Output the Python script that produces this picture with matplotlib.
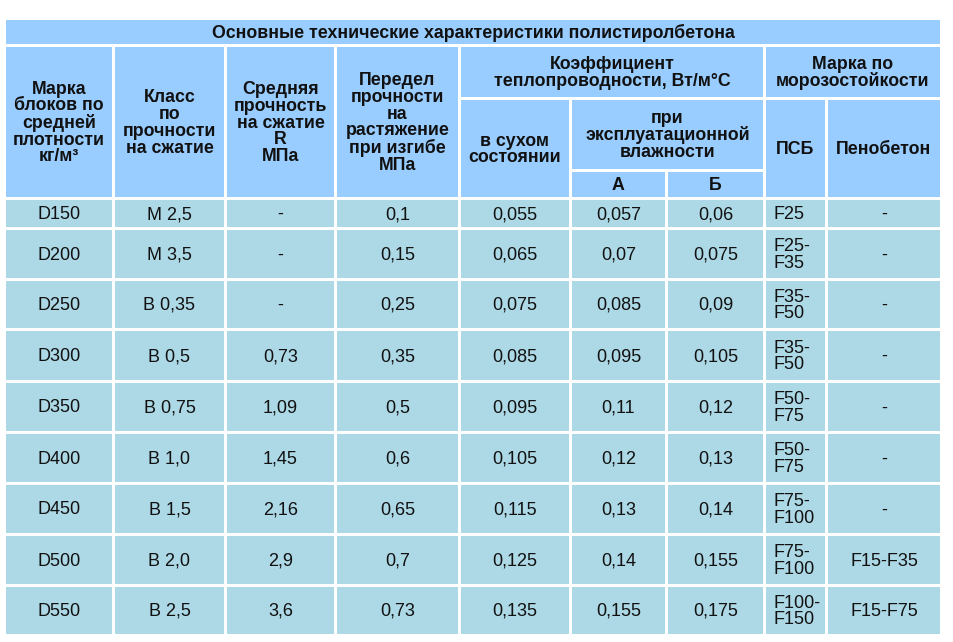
import matplotlib

matplotlib.use("Agg")

import matplotlib.pyplot as plt
from matplotlib import patches

HEAD = "#99CCFF"
BODY = "#ADD8E6"
TEXT = "#111111"

TITLE = "Основные технические характеристики полистиролбетона"

# table data
grades = ["D150", "D200", "D250", "D300", "D350", "D400", "D450", "D500", "D550"]
classes = ["М 2,5", "М 3,5", "В 0,35", "В 0,5", "В 0,75", "В 1,0", "В 1,5", "В 2,0", "В 2,5"]
strength_r = ["-", "-", "-", "0,73", "1,09", "1,45", "2,16", "2,9", "3,6"]
bend_limit = ["0,1", "0,15", "0,25", "0,35", "0,5", "0,6", "0,65", "0,7", "0,73"]
lam_dry = ["0,055", "0,065", "0,075", "0,085", "0,095", "0,105", "0,115", "0,125", "0,135"]
lam_a = ["0,057", "0,07", "0,085", "0,095", "0,11", "0,12", "0,13", "0,14", "0,155"]
lam_b = ["0,06", "0,075", "0,09", "0,105", "0,12", "0,13", "0,14", "0,155", "0,175"]
frost_psb = ["F25", "F25-\nF35", "F35-\nF50", "F35-\nF50", "F50-\nF75", "F50-\nF75",
             "F75-\nF100", "F75-\nF100", "F100-\nF150"]
frost_foam = ["-", "-", "-", "-", "-", "-", "-", "F15-F35", "F15-F75"]

# layout in pixels
COLS = [(6, 112), (115, 224), (227, 334), (337, 458), (461, 569),
        (572, 665), (668, 763), (766, 825), (828, 940)]
ROWS = [(200, 227), (230, 278), (281, 328), (331, 380), (383, 431),
        (434, 482), (485, 533), (536, 584), (587, 634)]

W, H = 954, 642


def cell(ax, x0, x1, y0, y1, color, text="", bold=False, size=12, ha="center", ls=1.0):
    ax.add_patch(patches.Rectangle((x0, y0), x1 - x0, y1 - y0, facecolor=color, edgecolor="none"))
    if text:
        x = (x0 + x1) / 2 if ha == "center" else x0 + 8
        ax.text(x, (y0 + y1) / 2 + 1, text, ha=ha, va="center", fontsize=size, color=TEXT,
                fontweight="bold" if bold else "normal", linespacing=ls,
                multialignment=ha)


def main():
    plt.rcParams["font.family"] = "Liberation Sans"
    fig = plt.figure(figsize=(W / 100, H / 100), dpi=100)
    ax = fig.add_axes([0, 0, 1, 1])
    ax.set_xlim(0, W)
    ax.set_ylim(H, 0)
    ax.set_axis_off()

    hs = 12.8
    hl = 0.98
    cell(ax, 6, 940, 20, 44, HEAD, TITLE, bold=True, size=hs)
    c = COLS
    cell(ax, *c[0], 47, 197, HEAD, "Марка\nблоков по\nсредней\nплотности\nкг/м³", True, hs, ls=hl)
    cell(ax, *c[1], 47, 197, HEAD, "Класс\nпо\nпрочности\nна сжатие", True, hs, ls=hl)
    cell(ax, *c[2], 47, 197, HEAD, "Средняя\nпрочность\nна сжатие\nR\nМПа", True, hs, ls=hl)
    cell(ax, *c[3], 47, 197, HEAD, "Передел\nпрочности\nна\nрастяжение\nпри изгибе\nМПа", True, hs, ls=hl)
    cell(ax, c[4][0], c[6][1], 47, 97, HEAD, "Коэффициент\nтеплопроводности, Вт/м°С", True, hs, ls=hl)
    cell(ax, c[7][0], c[8][1], 47, 97, HEAD, "Марка по\nморозостойкости", True, hs, ls=hl)
    cell(ax, *c[4], 100, 197, HEAD, "в сухом\nсостоянии", True, hs, ls=hl)
    cell(ax, c[5][0], c[6][1], 100, 169, HEAD, "при\nэксплуатационной\nвлажности", True, hs, ls=hl)
    cell(ax, *c[5], 172, 197, HEAD, "А", True, hs)
    cell(ax, *c[6], 172, 197, HEAD, "Б", True, hs)
    cell(ax, *c[7], 100, 197, HEAD, "ПСБ", True, hs)
    cell(ax, *c[8], 100, 197, HEAD, "Пенобетон", True, hs)

    columns = [grades, classes, strength_r, bend_limit, lam_dry, lam_a, lam_b, frost_psb, frost_foam]
    for ci, values in enumerate(columns):
        for ri, val in enumerate(values):
            ha = "left" if ci == 7 else "center"
            cell(ax, *COLS[ci], *ROWS[ri], BODY, val, size=13, ha=ha, ls=0.95)

    fig.savefig("out.png", dpi=100, facecolor="white")
    plt.close(fig)


if __name__ == "__main__":
    main()
